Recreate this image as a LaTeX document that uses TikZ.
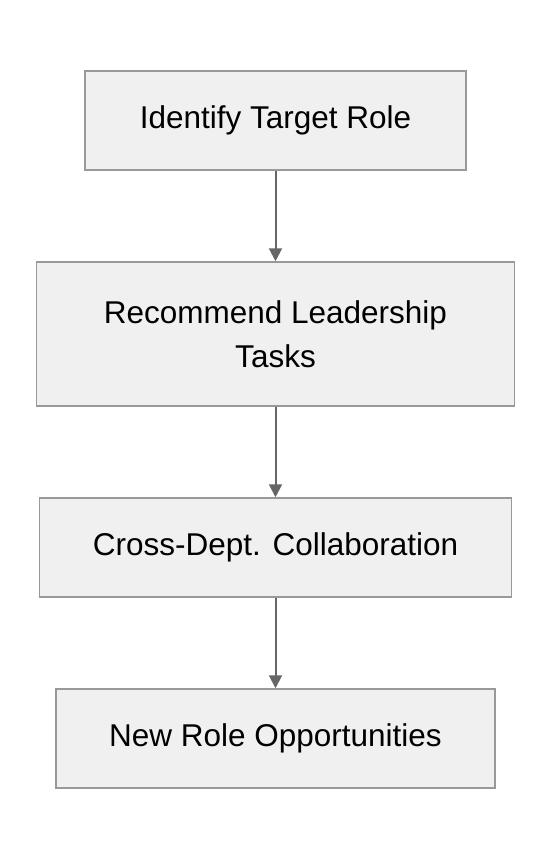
\documentclass[tikz,border=0pt]{standalone}
\usepackage{fontspec}
\setmainfont{Liberation Sans}
\usetikzlibrary{positioning,arrows.meta}

\begin{document}
\begin{tikzpicture}[x=1pt,y=1pt, node distance=90.5pt,
    step box/.style={rectangle, draw=black!40, line width=1.5pt, fill=black!6,
    minimum height=99pt, align=center, font=\fontsize{31.5}{44}\selectfont},
    >={Triangle[length=13pt,width=13pt]}]
    \useasboundingbox (0,0) rectangle (552,-860);
    \node[step box, minimum width=381pt] (T) at (275.5,-120.5) {Identify Target Role};
    \node[step box, minimum width=478pt, minimum height=144pt, below=of T] (R) {Recommend Leadership\\Tasks};
    \node[step box, minimum width=472pt, below=of R] (C) {Cross-Dept. Collaboration};
    \node[step box, minimum width=439pt, below=of C] (N) {New Role Opportunities};
    \draw[->, draw=black!60, line width=2pt] (T) -- (R);
    \draw[->, draw=black!60, line width=2pt] (R) -- (C);
    \draw[->, draw=black!60, line width=2pt] (C) -- (N);
\end{tikzpicture}
\end{document}
